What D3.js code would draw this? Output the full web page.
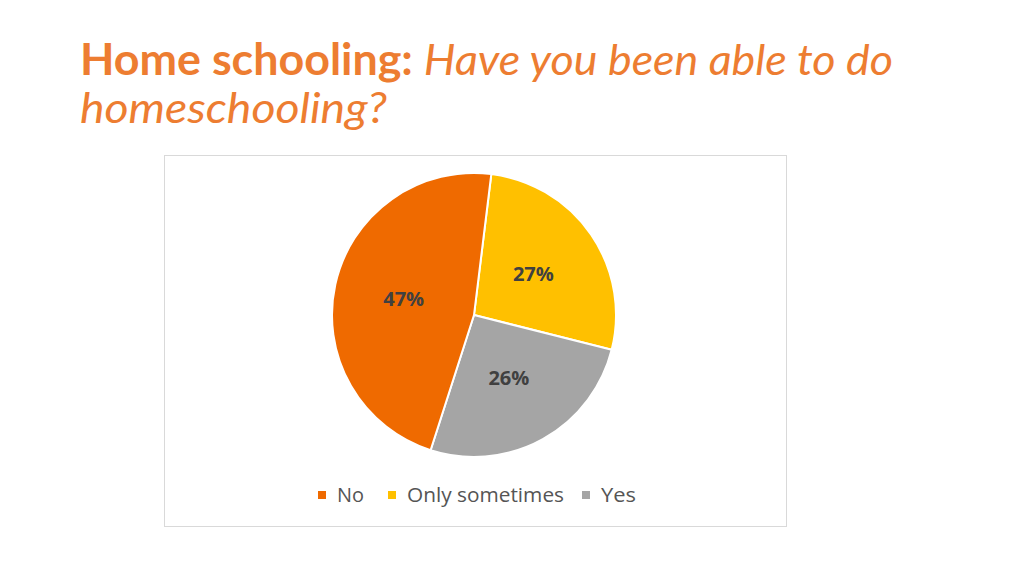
<!DOCTYPE html>
<html>
<head>
<meta charset="utf-8">
<title>Home schooling</title>
<script src="https://d3js.org/d3.v7.min.js"></script>
<style>
  body { margin: 0; background: #fff; }
  svg { display: block; }
</style>
</head>
<body>
<script>
// chart data
var categories = ["Only sometimes", "Yes", "No"];
var values = [27, 26, 47];
var legendOrder = ["No", "Only sometimes", "Yes"];
var colors = { "No": "#ef6a00", "Only sometimes": "#ffc000", "Yes": "#a5a5a5" };

var w = 1024, h = 576;
var svg = d3.select("body").append("svg")
  .attr("width", w)
  .attr("height", h);

// title, two lines
var t1 = svg.append("text")
  .attr("x", 80).attr("y", 75)
  .attr("font-family", "Lato, 'Open Sans', sans-serif")
  .attr("font-size", 43)
  .attr("fill", "#ed7d31")
  .attr("textLength", 813)
  .attr("lengthAdjust", "spacingAndGlyphs");
t1.append("tspan").attr("font-weight", "bold").text("Home schooling: ");
t1.append("tspan").attr("font-style", "italic").text("Have you been able to do");

svg.append("text")
  .attr("x", 80).attr("y", 123)
  .attr("font-family", "Lato, 'Open Sans', sans-serif")
  .attr("font-size", 43)
  .attr("font-style", "italic")
  .attr("fill", "#ed7d31")
  .attr("textLength", 307)
  .attr("lengthAdjust", "spacingAndGlyphs")
  .text("homeschooling?");

// chart frame
svg.append("rect")
  .attr("x", 164.5).attr("y", 155.5)
  .attr("width", 622).attr("height", 371)
  .attr("fill", "#fff")
  .attr("stroke", "#d9d9d9");

var cx = 474, cy = 315, r = 142;
var startA = 7 * Math.PI / 180;

var pie = d3.pie()
  .sort(null)
  .startAngle(startA)
  .endAngle(startA + 2 * Math.PI);

var data = categories.map(function (c, i) { return { name: c, value: values[i] }; });
var arcs = pie.value(function (d) { return d.value; })(data);

var arc = d3.arc().innerRadius(0).outerRadius(r);
var labelArc = d3.arc().innerRadius(72).outerRadius(72);

var g = svg.append("g").attr("transform", "translate(" + cx + "," + cy + ")");

g.selectAll("path")
  .data(arcs)
  .enter()
  .append("path")
  .attr("d", arc)
  .attr("fill", function (d) { return colors[d.data.name]; })
  .attr("stroke", "#fff")
  .attr("stroke-width", 2)
  .attr("stroke-linejoin", "round");

g.selectAll("text.lbl")
  .data(arcs)
  .enter()
  .append("text")
  .attr("class", "lbl")
  .attr("transform", function (d) { return "translate(" + labelArc.centroid(d) + ")"; })
  .attr("text-anchor", "middle")
  .attr("dy", "0.35em")
  .attr("font-family", "'Open Sans', sans-serif")
  .attr("font-weight", "bold")
  .attr("font-size", 19)
  .attr("fill", "#404040")
  .attr("textLength", 41)
  .attr("lengthAdjust", "spacingAndGlyphs")
  .text(function (d) { return d.data.value + "%"; });

// legend
var legendX = d3.scaleOrdinal()
  .domain(legendOrder)
  .range([318, 388, 582]);
var textW = { "No": 27, "Only sometimes": 157, "Yes": 35 };

var lg = svg.selectAll("g.leg")
  .data(legendOrder)
  .enter()
  .append("g")
  .attr("class", "leg")
  .attr("transform", function (d) { return "translate(" + legendX(d) + ",491)"; });

lg.append("rect")
  .attr("width", 8).attr("height", 8)
  .attr("fill", function (d) { return colors[d]; });

lg.append("text")
  .attr("x", 19).attr("y", 11)
  .attr("font-family", "'Open Sans', sans-serif")
  .attr("font-size", 20)
  .attr("fill", "#555")
  .attr("textLength", function (d) { return textW[d]; })
  .attr("lengthAdjust", "spacingAndGlyphs")
  .text(function (d) { return d; });
</script>
</body>
</html>
